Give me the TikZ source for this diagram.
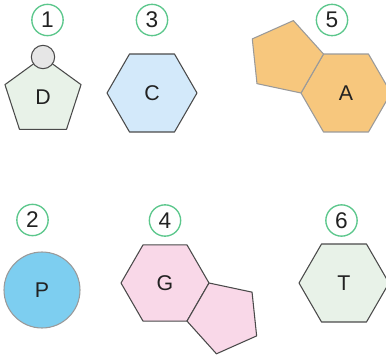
\documentclass[tikz,border=0pt]{standalone}
\usepackage{fontspec}
\setmainfont{Liberation Sans}
\usetikzlibrary{shapes.geometric}

\definecolor{numring}{HTML}{5CC78C}
\definecolor{edgedark}{HTML}{4A4A4A}
\definecolor{edgelight}{HTML}{9A9A9A}
\definecolor{fillgreen}{HTML}{E8F2E8}
\definecolor{fillblue}{HTML}{D3E9FA}
\definecolor{fillorange}{HTML}{F7C77D}
\definecolor{fillsky}{HTML}{7DCEF0}
\definecolor{fillpink}{HTML}{F9D8E8}
\definecolor{fillgrey}{HTML}{E6E6E6}
\definecolor{inktext}{HTML}{222222}

\tikzset{
  numtag/.style={circle, draw=numring, line width=1pt, fill=white,
    minimum size=23.5pt, inner sep=0pt, text=inktext,
    font=\fontsize{17}{17}\selectfont},
  shapetext/.style={text=inktext, inner sep=0pt,
    font=\fontsize{16}{16}\selectfont},
  hexa/.style={regular polygon, regular polygon sides=6,
    draw=edgedark, line width=0.8pt,
    minimum size=67.5pt, shapetext},
  penta/.style={regular polygon, regular polygon sides=5,
    draw=edgedark, line width=0.8pt, minimum size=60pt, shapetext},
}

\begin{document}
\begin{tikzpicture}[x=0.75pt, y=-0.75pt, line join=round]
  \useasboundingbox (0,0) rectangle (386,357);

  % 1: pentagon with a small ring on its apex
  \node[penta, fill=fillgreen] (d) at (43,97) {D};
  \node[circle, draw=edgedark, line width=0.8pt, fill=fillgrey,
        minimum size=17.5pt, inner sep=0pt] (dtop) at (43,57) {};
  \node[numtag] (n1) at (47.5,20) {1};

  % 3: hexagon
  \node[hexa, fill=fillblue] (c) at (152,93) {C};
  \node[numtag] (n3) at (152,20) {3};

  % 5: hexagon with a pentagon fused on its upper-left edge
  \node[hexa, fill=fillorange, draw=edgelight] (a) at (346,93) {A};
  \node[regular polygon, regular polygon sides=5, shape border rotate=60,
        draw=edgelight, line width=0.8pt, fill=fillorange,
        minimum size=57.42pt] (aring) at (285.43,58.03) {};
  \node[numtag] (n5) at (332,20) {5};

  % 2: disc
  \node[circle, draw=edgelight, line width=0.8pt, fill=fillsky,
        minimum size=57pt, inner sep=0pt, shapetext] (p) at (42,290) {P};
  \node[numtag] (n2) at (32.5,220) {2};

  % 4: hexagon with a pentagon fused on its lower-right edge
  \node[hexa, fill=fillpink, minimum size=66pt] (g) at (165,283) {G};
  \node[regular polygon, regular polygon sides=5, shape border rotate=-120,
        draw=edgedark, line width=0.8pt, fill=fillpink,
        minimum size=56.15pt] (gring) at (224.23,317.19) {};
  \node[numtag] (n4) at (165,220.5) {4};

  % 6: hexagon
  \node[hexa, fill=fillgreen] (t) at (344,283) {T};
  \node[numtag] (n6) at (341.5,220.5) {6};
\end{tikzpicture}
\end{document}
